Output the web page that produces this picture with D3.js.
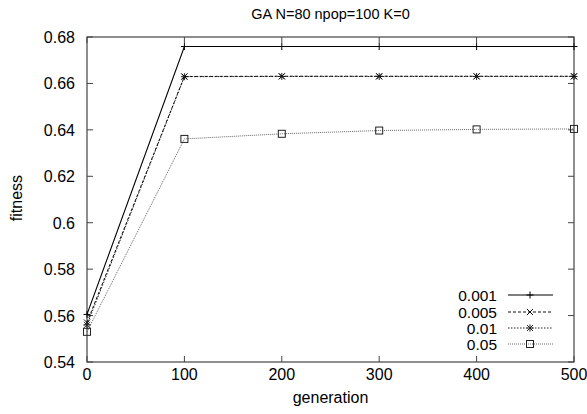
<!DOCTYPE html>
<html lang="en">
<head>
<meta charset="UTF-8">
<title>GA N=80 npop=100 K=0</title>
<script src="https://cdnjs.cloudflare.com/ajax/libs/d3/7.8.5/d3.min.js"></script>
<style>
  body { margin: 0; background: #fff; }
  text { font-family: "Liberation Sans", Arial, sans-serif; fill: #000; }
  .border { fill: none; stroke: #444; stroke-width: 1.2; }
  .tick-mark { stroke: #444; stroke-width: 1; }
</style>
</head>
<body>
<div id="chart"></div>
<script>
// data
var generations = [0, 100, 200, 300, 400, 500];
var seriesNames = ["0.001", "0.005", "0.01", "0.05"];
var fit001  = [0.5605, 0.6759, 0.6759, 0.6759, 0.6759, 0.6759];
var fit005  = [0.5570, 0.6630, 0.6631, 0.6631, 0.6631, 0.6631];
var fit01   = [0.5560, 0.6629, 0.6630, 0.6630, 0.6630, 0.6630];
var fit05   = [0.5530, 0.6361, 0.6383, 0.6397, 0.6402, 0.6404];
var xTicks = [0, 100, 200, 300, 400, 500];
var yTicks = [0.54, 0.56, 0.58, 0.6, 0.62, 0.64, 0.66, 0.68];

var width = 587, height = 414,
    plotLeft = 87, plotRight = 574, plotTop = 37, plotBottom = 362;

var svg = d3.select('#chart').append('svg')
    .attr('width', width)
    .attr('height', height);

var x = d3.scaleLinear().domain([0, 500]).range([plotLeft, plotRight]);
var y = d3.scaleLinear().domain([0.54, 0.68]).range([plotBottom, plotTop]);

// line styles per series
var styles = [
  { data: fit001, dash: null,      color: "#000", width: 1.1, marker: "plus" },
  { data: fit005, dash: "3,2",     color: "#111", width: 1,   marker: "cross" },
  { data: fit01,  dash: "1.5,1.5", color: "#222", width: 1,   marker: "star" },
  { data: fit05,  dash: "1,1",     color: "#555", width: 0.9, marker: "square" }
];

// ticks (inward, mirrored like gnuplot)
var tl = 6;
yTicks.forEach(function (v) {
  svg.append('line').attr('class', 'tick-mark')
    .attr('x1', plotLeft).attr('x2', plotLeft + tl).attr('y1', y(v)).attr('y2', y(v));
  svg.append('line').attr('class', 'tick-mark')
    .attr('x1', plotRight).attr('x2', plotRight - tl).attr('y1', y(v)).attr('y2', y(v));
  svg.append('text')
    .attr('x', plotLeft - 12).attr('y', y(v) + 6)
    .attr('text-anchor', 'end').style('font-size', '16px')
    .text(d3.format('')(v));
});
xTicks.forEach(function (v) {
  svg.append('line').attr('class', 'tick-mark')
    .attr('x1', x(v)).attr('x2', x(v)).attr('y1', plotBottom).attr('y2', plotBottom - tl);
  svg.append('line').attr('class', 'tick-mark')
    .attr('x1', x(v)).attr('x2', x(v)).attr('y1', plotTop).attr('y2', plotTop + tl);
  svg.append('text')
    .attr('x', x(v)).attr('y', plotBottom + 18)
    .attr('text-anchor', 'middle').style('font-size', '16px')
    .text(v);
});

svg.append('rect').attr('class', 'border')
  .attr('x', plotLeft).attr('y', plotTop)
  .attr('width', plotRight - plotLeft).attr('height', plotBottom - plotTop);

// titles
svg.append('text').attr('x', (plotLeft + plotRight) / 2).attr('y', 19)
  .attr('text-anchor', 'middle').style('font-size', '14.5px')
  .text('GA N=80 npop=100 K=0');
svg.append('text').attr('x', (plotLeft + plotRight) / 2).attr('y', 403)
  .attr('text-anchor', 'middle').style('font-size', '16px')
  .text('generation');
svg.append('text')
  .attr('transform', 'translate(22,198) rotate(-90)')
  .attr('text-anchor', 'middle').style('font-size', '16px')
  .text('fitness');

function drawMarker(g, type, cx, cy, color) {
  var s = 3.5;
  if (type === 'plus' || type === 'star') {
    g.append('line').attr('x1', cx - s).attr('x2', cx + s).attr('y1', cy).attr('y2', cy)
      .attr('stroke', color).attr('stroke-width', 1);
    g.append('line').attr('x1', cx).attr('x2', cx).attr('y1', cy - s).attr('y2', cy + s)
      .attr('stroke', color).attr('stroke-width', 1);
  }
  if (type === 'cross' || type === 'star') {
    var c = 3;
    g.append('line').attr('x1', cx - c).attr('x2', cx + c).attr('y1', cy - c).attr('y2', cy + c)
      .attr('stroke', color).attr('stroke-width', 1);
    g.append('line').attr('x1', cx - c).attr('x2', cx + c).attr('y1', cy + c).attr('y2', cy - c)
      .attr('stroke', color).attr('stroke-width', 1);
  }
  if (type === 'square') {
    g.append('rect').attr('x', cx - 3.5).attr('y', cy - 3.5).attr('width', 7).attr('height', 7)
      .attr('fill', 'none').attr('stroke', '#222').attr('stroke-width', 1);
  }
}

var line = d3.line()
  .x(function (d, i) { return x(generations[i]); })
  .y(function (d) { return y(d); });

// draw in reverse so solid line sits on top
styles.slice().reverse().forEach(function (st) {
  var g = svg.append('g');
  g.append('path')
    .attr('d', line(st.data))
    .attr('fill', 'none')
    .attr('stroke', st.color)
    .attr('stroke-width', st.width)
    .attr('stroke-dasharray', st.dash);
  st.data.forEach(function (v, i) {
    drawMarker(g, st.marker, x(generations[i]), y(v), st.color);
  });
});

// legend
var legendY = [295, 312, 328, 344];
seriesNames.forEach(function (name, i) {
  var st = styles[i];
  var g = svg.append('g');
  g.append('text').attr('x', 497).attr('y', legendY[i] + 5.5)
    .attr('text-anchor', 'end').style('font-size', '15.5px').text(name);
  g.append('line').attr('x1', 508).attr('x2', 553)
    .attr('y1', legendY[i]).attr('y2', legendY[i])
    .attr('stroke', st.color).attr('stroke-width', st.width)
    .attr('stroke-dasharray', st.dash);
  drawMarker(g, st.marker, 530, legendY[i], st.color);
});
</script>
</body>
</html>
